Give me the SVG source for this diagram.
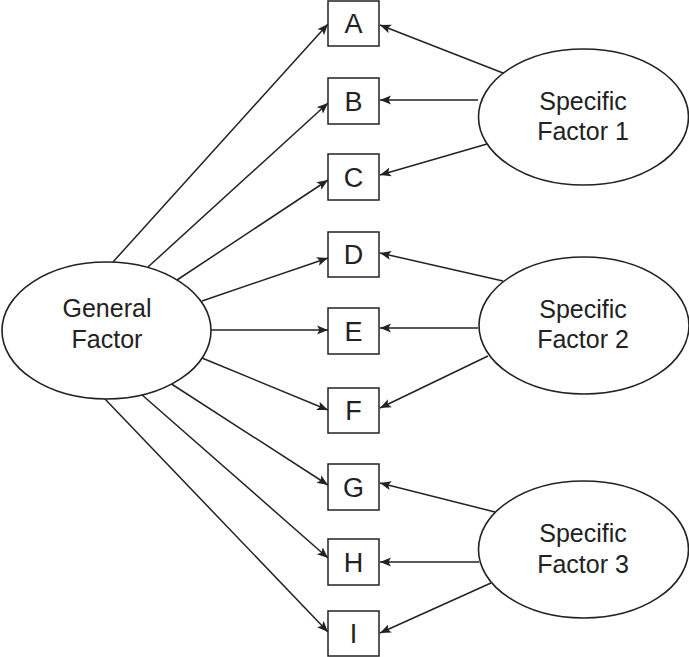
<svg xmlns="http://www.w3.org/2000/svg" width="689" height="657" viewBox="0 0 689 657">
<defs>
<marker id="arr" markerUnits="userSpaceOnUse" markerWidth="12" markerHeight="10" refX="11" refY="5" orient="auto">
<path d="M0,0.5 L11,5 L0,9.5 L2.5,5 Z" fill="#222"/>
</marker>
<style>
.box{fill:#fff;stroke:#222;stroke-width:1.5}
.ell{fill:#fff;stroke:#222;stroke-width:1.6}
.lbl{font-family:"Liberation Sans",Arial,sans-serif;font-size:27px;fill:#222;text-anchor:middle}
.txt{font-family:"Liberation Sans",Arial,sans-serif;font-size:25px;fill:#222;text-anchor:middle}
.con line{stroke:#222;stroke-width:1.5;marker-end:url(#arr)}
</style>
</defs>
<rect width="689" height="657" fill="#fff"/>
<g id="connectors" class="con">
<line x1="113" y1="262" x2="328" y2="24"/>
<line x1="148" y1="267" x2="328" y2="103"/>
<line x1="177" y1="280" x2="328" y2="180"/>
<line x1="202" y1="301" x2="328" y2="258"/>
<line x1="211" y1="330" x2="328" y2="330"/>
<line x1="202" y1="358" x2="328" y2="410"/>
<line x1="170" y1="383" x2="328" y2="485"/>
<line x1="141" y1="394" x2="328" y2="558"/>
<line x1="104" y1="398" x2="328" y2="632"/>
<line x1="503" y1="73" x2="380" y2="25"/>
<line x1="478" y1="100" x2="380" y2="100"/>
<line x1="487" y1="144" x2="380" y2="175"/>
<line x1="503" y1="281" x2="380" y2="253"/>
<line x1="478" y1="328" x2="380" y2="328"/>
<line x1="488" y1="356" x2="380" y2="408"/>
<line x1="495" y1="512" x2="380" y2="483"/>
<line x1="479" y1="562" x2="380" y2="562"/>
<line x1="491" y1="583" x2="380" y2="633"/>
</g>
<g id="general">
<ellipse class="ell" cx="106.5" cy="330.5" rx="104.5" ry="68.5"/>
<text class="txt" x="107" y="317">General</text>
<text class="txt" x="107" y="348">Factor</text>
</g>
<g id="sf1">
<ellipse class="ell" cx="583.5" cy="117" rx="105" ry="68"/>
<text class="txt" x="583" y="110">Specific</text>
<text class="txt" x="583" y="140">Factor 1</text>
</g>
<g id="sf2">
<ellipse class="ell" cx="584" cy="325.5" rx="105" ry="68.5"/>
<text class="txt" x="583" y="318">Specific</text>
<text class="txt" x="583" y="348">Factor 2</text>
</g>
<g id="sf3">
<ellipse class="ell" cx="583.5" cy="549.5" rx="105" ry="68.5"/>
<text class="txt" x="583" y="542">Specific</text>
<text class="txt" x="583" y="573">Factor 3</text>
</g>
<g id="A"><rect class="box" x="328" y="1" width="51" height="45"/><text class="lbl" x="353.5" y="33">A</text></g>
<g id="B"><rect class="box" x="328" y="78" width="51" height="46"/><text class="lbl" x="353.5" y="111">B</text></g>
<g id="C"><rect class="box" x="328" y="154" width="51" height="46"/><text class="lbl" x="353.5" y="187">C</text></g>
<g id="D"><rect class="box" x="328" y="232" width="51" height="45"/><text class="lbl" x="353.5" y="264">D</text></g>
<g id="E"><rect class="box" x="328" y="308" width="51" height="46"/><text class="lbl" x="353.5" y="341">E</text></g>
<g id="F"><rect class="box" x="328" y="388" width="51" height="45"/><text class="lbl" x="353.5" y="420">F</text></g>
<g id="G"><rect class="box" x="328" y="464" width="51" height="46"/><text class="lbl" x="353.5" y="497">G</text></g>
<g id="H"><rect class="box" x="328" y="539" width="51" height="46"/><text class="lbl" x="353.5" y="572">H</text></g>
<g id="I"><rect class="box" x="328" y="611" width="51" height="45"/><text class="lbl" x="353.5" y="643">I</text></g>
</svg>
